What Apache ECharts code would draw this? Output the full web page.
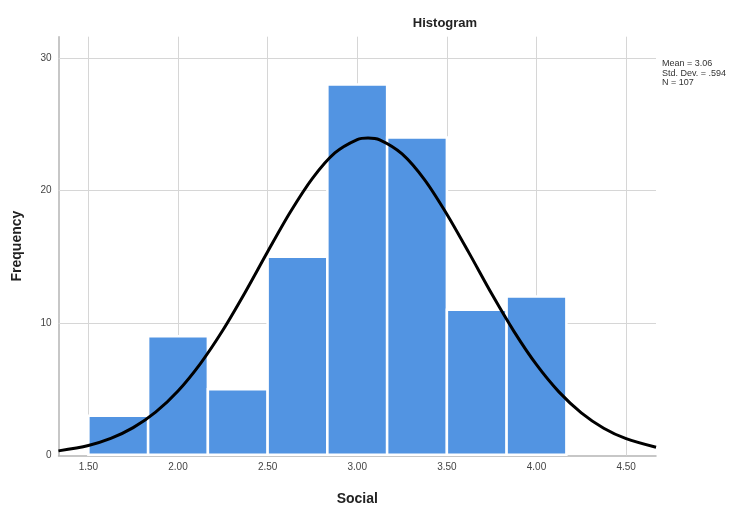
<!DOCTYPE html>
<html><head><meta charset="utf-8">
<script src="https://cdn.jsdelivr.net/npm/echarts@6/dist/echarts.min.js"></script>
<style>html,body{margin:0;padding:0;background:#fff}#c{width:741px;height:507px}</style>
</head><body><div id="c"></div>
<script>
// Histogram bins (edges) and frequencies
const binEdges = [1.5, 1.8333, 2.1667, 2.5, 2.8333, 3.1667, 3.5, 3.8333, 4.1667];
const frequencies = [3, 9, 5, 15, 28, 24, 11, 12];
// Normal curve points
const curveX = [1.333, 1.5, 1.625, 1.75, 1.875, 2.0, 2.125, 2.25, 2.375, 2.5, 2.625, 2.75, 2.875, 3.0, 3.06, 3.125, 3.25, 3.375, 3.5, 3.625, 3.75, 3.875, 4.0, 4.125, 4.25, 4.375, 4.5, 4.667];
const curveY = [0.35, 0.76, 1.29, 2.10, 3.27, 4.87, 6.94, 9.45, 12.32, 15.37, 18.33, 20.91, 22.83, 23.84, 23.96, 23.82, 22.76, 20.82, 18.21, 15.25, 12.20, 9.35, 6.85, 4.80, 3.22, 2.06, 1.27, 0.62];
const xTicks = [1.5, 2.0, 2.5, 3.0, 3.5, 4.0, 4.5];
const xTickLabels = ['1.50', '2.00', '2.50', '3.00', '3.50', '4.00', '4.50'];
const yTicks = [0, 10, 20, 30];
const statsText = ['Mean = 3.06', 'Std. Dev. = .594', 'N = 107'];

const barData = frequencies.map((f, i) => [binEdges[i], binEdges[i + 1], f]);
const chart = echarts.init(document.getElementById('c'));
const font = 'Liberation Sans, Arial, sans-serif';
const gridLine = {color: '#d6d6d6', width: 1, type: 'solid'};

chart.setOption({
  animation: false,
  title: {text: 'Histogram', left: 440, top: 12, textAlign: 'center',
    textStyle: {fontFamily: font, fontSize: 13, fontWeight: 'bold', color: '#222'}},
  graphic: [{type: 'text', left: 662, top: 59,
    style: {text: statsText.join('\n'), font: '9px ' + font, fill: '#333', lineHeight: 9.5}}],
  grid: {left: 58.5, right: 85, top: 36.7, bottom: 51.5, outerBoundsMode: 'none', containLabel: false},
  xAxis: {type: 'value', min: 4 / 3, max: 14 / 3, name: 'Social', nameLocation: 'middle', nameGap: 37,
    nameTextStyle: {fontFamily: font, fontSize: 14, fontWeight: 'bold', color: '#222'},
    axisLine: {show: true, lineStyle: {color: '#b5b5b5', width: 1.5}},
    axisTick: {show: false},
    splitLine: {show: false},
    axisLabel: {customValues: xTicks, formatter: v => xTickLabels[xTicks.findIndex(t => Math.abs(t - v) < 1e-6)] || '',
      fontFamily: font, fontSize: 10, color: '#444', margin: 7}},
  yAxis: {type: 'value', min: 0, max: 31.6, name: 'Frequency', nameLocation: 'middle', nameGap: 34,
    nameTextStyle: {fontFamily: font, fontSize: 14, fontWeight: 'bold', color: '#222'},
    axisLine: {show: true, lineStyle: {color: '#b5b5b5', width: 1.5}},
    axisTick: {show: false},
    splitLine: {show: false},
    axisLabel: {customValues: yTicks, fontFamily: font, fontSize: 10, color: '#444', margin: 7}},
  series: [
    {type: 'line', data: [], silent: true, z: 0, zlevel: 0,
      markLine: {silent: true, symbol: 'none', label: {show: false}, lineStyle: gridLine,
        data: xTicks.map(v => ({xAxis: v})).concat(yTicks.filter(v => v > 0).map(v => ({yAxis: v})))}},
    {type: 'custom', data: barData, z: 3, zlevel: 1,
      renderItem: (params, api) => {
        const p0 = api.coord([api.value(0), api.value(2)]);
        const p1 = api.coord([api.value(1), 0]);
        return {type: 'rect', shape: {x: p0[0], y: p0[1], width: p1[0] - p0[0], height: p1[1] - p0[1] - 0.8},
          style: {fill: '#5294e2', stroke: '#ffffff', lineWidth: 2.5}};
      }},
    {type: 'line', data: curveX.map((x, i) => [x, curveY[i]]), smooth: 0.3, symbol: 'none', z: 5, zlevel: 1,
      lineStyle: {color: '#000', width: 3}}
  ]
});
</script></body></html>
